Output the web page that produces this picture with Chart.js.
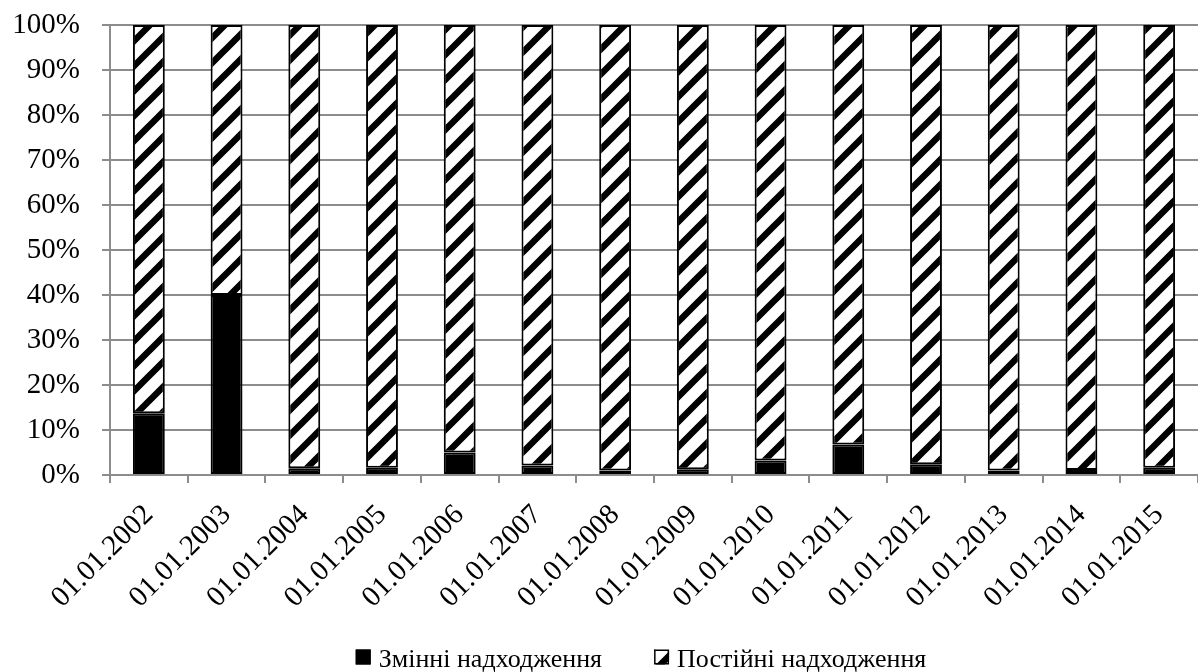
<!DOCTYPE html>
<html>
<head>
<meta charset="utf-8">
<script src="https://cdn.jsdelivr.net/npm/chart.js@4.4.0/dist/chart.umd.min.js"></script>
<style>
  html, body { margin: 0; padding: 0; background: #ffffff; }
  #wrap { width: 1198px; height: 672px; }
</style>
</head>
<body>
<div id="wrap"><canvas id="c" width="1198" height="672"></canvas></div>
<script>
// Dates of the observations
const categories = [
  '01.01.2002', '01.01.2003', '01.01.2004', '01.01.2005', '01.01.2006',
  '01.01.2007', '01.01.2008', '01.01.2009', '01.01.2010', '01.01.2011',
  '01.01.2012', '01.01.2013', '01.01.2014', '01.01.2015'
];
// Share of variable receipts, %
const variableShare = [13.7, 40.0, 1.5, 1.6, 5.0, 2.1, 1.0, 1.3, 3.2, 6.8, 2.4, 1.0, 1.1, 1.6];
// Share of permanent receipts, %
const permanentShare = [86.3, 60.0, 98.5, 98.4, 95.0, 97.9, 99.0, 98.7, 96.8, 93.2, 97.6, 99.0, 98.9, 98.4];
// Value axis tick labels
const yTickValues = [0, 10, 20, 30, 40, 50, 60, 70, 80, 90, 100];
const seriesNames = ['Змінні надходження', 'Постійні надходження'];

const FONT = '"Liberation Serif", "Times New Roman", serif';
const GRID = '#8c8c8c';

// Upward diagonal hatch for the permanent receipts
function makeHatch() {
  const s = 25;
  const t = document.createElement('canvas');
  t.width = s; t.height = s;
  const g = t.getContext('2d');
  g.fillStyle = '#ffffff';
  g.fillRect(0, 0, s, s);
  g.strokeStyle = '#000000';
  g.lineWidth = 6.5;
  g.beginPath();
  g.moveTo(-3, s + 3); g.lineTo(s + 3, -3);
  g.moveTo(-3, 3); g.lineTo(3, -3);
  g.moveTo(s - 3, s + 3); g.lineTo(s + 3, s - 3);
  g.stroke();
  return document.getElementById('c').getContext('2d').createPattern(t, 'repeat');
}
const hatch = makeHatch();

// Key drawn under the axis labels
const bottomKey = {
  id: 'bottomKey',
  afterDraw(chart) {
    const ctx = chart.ctx;
    ctx.save();
    ctx.font = '26px ' + FONT;
    const box = 15, gap = 8, between = 52;
    const items = chart.data.datasets.map(ds => ({
      label: ds.label, fill: ds.backgroundColor, w: ctx.measureText(ds.label).width
    }));
    const total = items.reduce((s, it) => s + box + gap + it.w, 0) + between * (items.length - 1);
    const area = chart.chartArea;
    let x = (area.left + area.right) / 2 - 13 - total / 2;
    const cy = chart.height - 15;
    items.forEach(it => {
      ctx.fillStyle = it.fill;
      ctx.fillRect(x, cy - box / 2, box, box);
      ctx.strokeStyle = '#000';
      ctx.lineWidth = 1.5;
      ctx.strokeRect(x + 0.75, cy - box / 2 + 0.75, box - 1.5, box - 1.5);
      ctx.fillStyle = '#000';
      ctx.textBaseline = 'alphabetic';
      ctx.textAlign = 'left';
      ctx.fillText(it.label, x + box + gap, cy + 10);
      x += box + gap + it.w + between;
    });
    ctx.restore();
  }
};

new Chart(document.getElementById('c'), {
  type: 'bar',
  data: {
    labels: categories,
    datasets: [
      {
        label: seriesNames[0],
        data: variableShare,
        backgroundColor: '#000000',
        borderColor: '#000000',
        borderWidth: 2,
        borderSkipped: false,
        barPercentage: 0.41,
        categoryPercentage: 1.0
      },
      {
        label: seriesNames[1],
        data: permanentShare,
        backgroundColor: hatch,
        borderColor: '#000000',
        borderWidth: 2,
        borderSkipped: false,
        barPercentage: 0.41,
        categoryPercentage: 1.0
      }
    ]
  },
  options: {
    responsive: false,
    devicePixelRatio: 1,
    animation: false,
    layout: { padding: { top: 25, right: 0, left: 0, bottom: 37 } },
    plugins: {
      legend: { display: false },
      tooltip: { enabled: false }
    },
    scales: {
      x: {
        stacked: true,
        grid: { drawOnChartArea: false, color: GRID, lineWidth: 2, tickLength: 8, tickColor: GRID },
        border: { color: GRID, width: 2 },
        ticks: {
          color: '#000', minRotation: 45, maxRotation: 45, padding: 15,
          font: { family: FONT, size: 29 }
        },
        afterFit(scale) {
          scale.height = 160;
          scale.paddingLeft = 0;
          scale.paddingRight = 0;
        }
      },
      y: {
        stacked: true,
        min: 0,
        max: 100,
        afterBuildTicks(scale) { scale.ticks = yTickValues.map(v => ({ value: v })); },
        grid: { color: GRID, lineWidth: 2, tickLength: 8, tickColor: GRID },
        border: { color: GRID, width: 2 },
        ticks: {
          color: '#000', padding: 22,
          font: { family: FONT, size: 29 },
          callback: v => v + '%'
        },
        afterFit(scale) {
          scale.width = 110;
          scale.paddingTop = 0;
          scale.paddingBottom = 0;
        }
      }
    }
  },
  plugins: [bottomKey]
});
</script>
</body>
</html>
